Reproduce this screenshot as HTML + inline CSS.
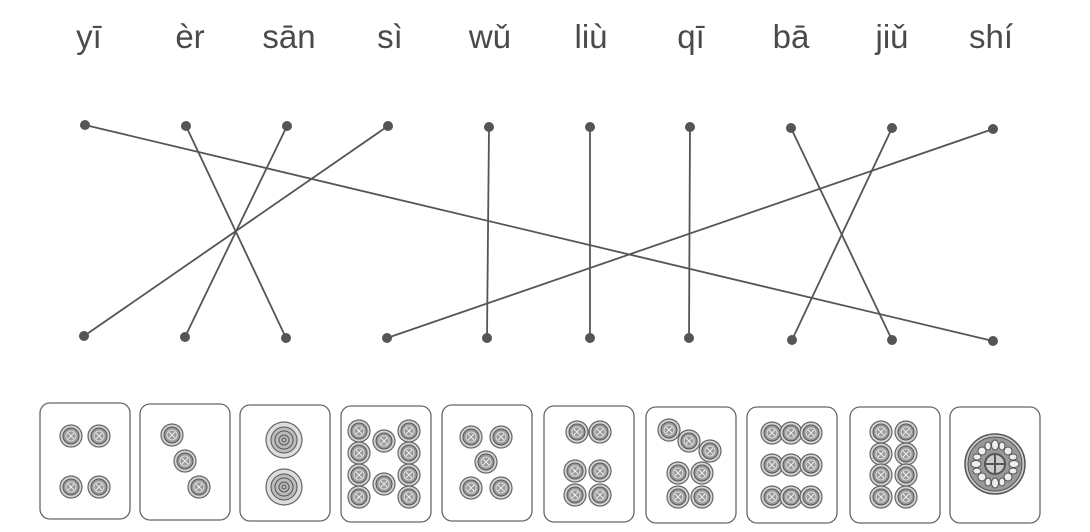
<!DOCTYPE html>
<html><head><meta charset="utf-8"><style>
body{margin:0;background:#fff;}
svg{display:block}
text{font-family:"Liberation Sans","DejaVu Sans",sans-serif;font-size:33px;fill:#4a4a4a;text-anchor:middle}
</style></head><body>
<svg width="1090" height="532" viewBox="0 0 1090 532">
<defs>
<g id="c"><circle r="11" fill="#d4d4d4" stroke="#666" stroke-width="1.2"/><circle r="8" fill="#999" stroke="#555"/><circle r="5" fill="none" stroke="#ddd" stroke-width="1"/><path d="M-3,-3L3,3M3,-3L-3,3" stroke="#eee" stroke-width="1"/></g>
<g id="b"><circle r="18" fill="#ddd" stroke="#666" stroke-width="1.2"/><circle r="13" fill="#bbb" stroke="#555"/><circle r="9" fill="none" stroke="#555"/><circle r="5" fill="none" stroke="#555"/><circle r="2" fill="none" stroke="#555"/></g>
</defs>
<g>
<text x="89" y="48">yī</text><text x="190" y="48">èr</text><text x="289" y="48">sān</text><text x="390" y="48">sì</text><text x="490" y="48">wǔ</text><text x="591" y="48">liù</text><text x="691" y="48">qī</text><text x="791" y="48">bā</text><text x="892" y="48">jiǔ</text><text x="991" y="48">shí</text>
</g>
<g stroke="#555" stroke-width="1.8" fill="none">
<line x1="85" y1="125" x2="993" y2="341"/>
<line x1="186" y1="126" x2="286" y2="338"/>
<line x1="287" y1="126" x2="185" y2="337"/>
<line x1="388" y1="126" x2="84" y2="336"/>
<line x1="489" y1="127" x2="487" y2="338"/>
<line x1="590" y1="127" x2="590" y2="338"/>
<line x1="690" y1="127" x2="689" y2="338"/>
<line x1="791" y1="128" x2="892" y2="340"/>
<line x1="892" y1="128" x2="792" y2="340"/>
<line x1="993" y1="129" x2="387" y2="338"/>
</g>
<g fill="#555">
<circle cx="85" cy="125" r="5"/><circle cx="186" cy="126" r="5"/><circle cx="287" cy="126" r="5"/><circle cx="388" cy="126" r="5"/><circle cx="489" cy="127" r="5"/><circle cx="590" cy="127" r="5"/><circle cx="690" cy="127" r="5"/><circle cx="791" cy="128" r="5"/><circle cx="892" cy="128" r="5"/><circle cx="993" cy="129" r="5"/>
<circle cx="84" cy="336" r="5"/><circle cx="185" cy="337" r="5"/><circle cx="286" cy="338" r="5"/><circle cx="387" cy="338" r="5"/><circle cx="487" cy="338" r="5"/><circle cx="590" cy="338" r="5"/><circle cx="689" cy="338" r="5"/><circle cx="792" cy="340" r="5"/><circle cx="892" cy="340" r="5"/><circle cx="993" cy="341" r="5"/>
</g>
<g fill="#fff" stroke="#666" stroke-width="1.3">
<rect x="40" y="403" width="90" height="116" rx="10"/>
<rect x="140" y="404" width="90" height="116" rx="10"/>
<rect x="240" y="405" width="90" height="116" rx="10"/>
<rect x="341" y="406" width="90" height="116" rx="10"/>
<rect x="442" y="405" width="90" height="116" rx="10"/>
<rect x="544" y="406" width="90" height="116" rx="10"/>
<rect x="646" y="407" width="90" height="116" rx="10"/>
<rect x="747" y="407" width="90" height="116" rx="10"/>
<rect x="850" y="407" width="90" height="116" rx="10"/>
<rect x="950" y="407" width="90" height="116" rx="10"/>
</g>
<use href="#c" x="71" y="436"/><use href="#c" x="99" y="436"/><use href="#c" x="71" y="487"/><use href="#c" x="99" y="487"/>
<use href="#c" x="172" y="435"/><use href="#c" x="185" y="461"/><use href="#c" x="199" y="487"/>
<use href="#b" x="284" y="440"/><use href="#b" x="284" y="487"/>
<use href="#c" x="359" y="431"/><use href="#c" x="359" y="453"/><use href="#c" x="359" y="475"/><use href="#c" x="359" y="497"/>
<use href="#c" x="409" y="431"/><use href="#c" x="409" y="453"/><use href="#c" x="409" y="475"/><use href="#c" x="409" y="497"/>
<use href="#c" x="384" y="441"/><use href="#c" x="384" y="484"/>
<use href="#c" x="471" y="437"/><use href="#c" x="501" y="437"/><use href="#c" x="486" y="462"/><use href="#c" x="471" y="488"/><use href="#c" x="501" y="488"/>
<use href="#c" x="577" y="432"/><use href="#c" x="600" y="432"/><use href="#c" x="575" y="471"/><use href="#c" x="600" y="471"/><use href="#c" x="575" y="495"/><use href="#c" x="600" y="495"/>
<use href="#c" x="669" y="430"/><use href="#c" x="689" y="441"/><use href="#c" x="710" y="451"/><use href="#c" x="678" y="473"/><use href="#c" x="702" y="473"/><use href="#c" x="678" y="497"/><use href="#c" x="702" y="497"/>
<use href="#c" x="772" y="433"/><use href="#c" x="791" y="433"/><use href="#c" x="811" y="433"/><use href="#c" x="772" y="465"/><use href="#c" x="791" y="465"/><use href="#c" x="811" y="465"/><use href="#c" x="772" y="497"/><use href="#c" x="791" y="497"/><use href="#c" x="811" y="497"/>
<use href="#c" x="881" y="432"/><use href="#c" x="906" y="432"/><use href="#c" x="881" y="454"/><use href="#c" x="906" y="454"/><use href="#c" x="881" y="475"/><use href="#c" x="906" y="475"/><use href="#c" x="881" y="497"/><use href="#c" x="906" y="497"/>
<g transform="translate(995 464)" stroke="#555" fill="none">
<circle r="30" fill="#ccc" stroke-width="1.5"/><circle r="27" fill="#999"/>
<g fill="#eee">
<ellipse cx="0" cy="-19" rx="3.5" ry="5"/><ellipse cx="0" cy="19" rx="3.5" ry="5"/><ellipse cx="19" cy="0" rx="5" ry="3.5"/><ellipse cx="-19" cy="0" rx="5" ry="3.5"/>
<ellipse cx="13" cy="-13" rx="4" ry="4"/><ellipse cx="-13" cy="-13" rx="4" ry="4"/><ellipse cx="13" cy="13" rx="4" ry="4"/><ellipse cx="-13" cy="13" rx="4" ry="4"/>
<ellipse cx="7" cy="-18" rx="3" ry="4"/><ellipse cx="-7" cy="-18" rx="3" ry="4"/><ellipse cx="7" cy="18" rx="3" ry="4"/><ellipse cx="-7" cy="18" rx="3" ry="4"/>
<ellipse cx="18" cy="7" rx="4" ry="3"/><ellipse cx="18" cy="-7" rx="4" ry="3"/><ellipse cx="-18" cy="7" rx="4" ry="3"/><ellipse cx="-18" cy="-7" rx="4" ry="3"/>
</g>
<circle r="10" fill="#ccc" stroke-width="2"/><path d="M0,-10V10M-10,0H10" stroke-width="2"/>
</g>
</svg>
</body></html>
